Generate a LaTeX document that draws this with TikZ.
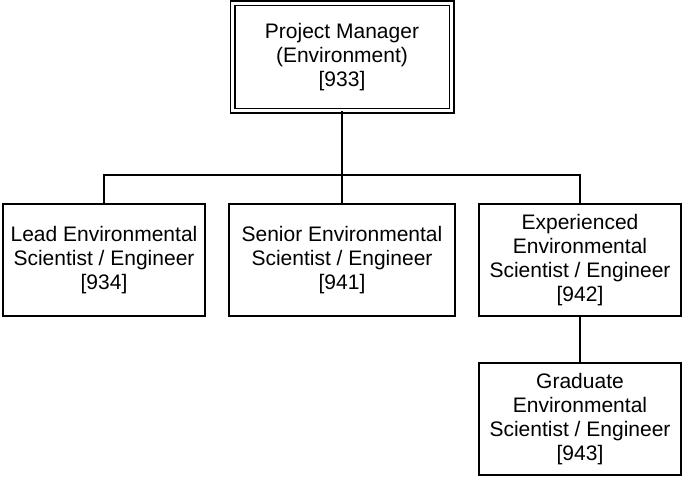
\documentclass[tikz,border=0pt]{standalone}
\usepackage{fontspec}
\setmainfont{Liberation Sans}
\usepackage{xcolor}
\usepackage{tikz}
\usetikzlibrary{positioning, calc}

\begin{document}
\begin{tikzpicture}[
    x=1pt, y=1pt,
    mgr/.style={
        draw=black, line width=1.5pt, double, double distance=3pt,
        rectangle, outer sep=0pt,
        minimum width=219pt, minimum height=107.5pt,
        align=center, font=\fontsize{21}{24}\selectfont
    },
    role/.style={
        draw=black, line width=1.8pt,
        rectangle, outer sep=0pt,
        minimum width=202pt, minimum height=112pt,
        inner sep=0pt, align=center, font=\fontsize{21}{24}\selectfont
    },
    link/.style={
        line width=1.8pt, draw=black
    },
]
\useasboundingbox (0,0) rectangle (683,-477);

\node[mgr] (pm) at (342,-57) {Project Manager\\(Environment)\\{}[933]};
\node[role, minimum width=226pt, below=93.25pt of pm] (senior) {Senior Environmental\\Scientist / Engineer\\{}[941]};
\node[role, left=24pt of senior] (lead) {Lead Environmental\\Scientist / Engineer\\{}[934]};
\node[role, right=24pt of senior] (exp) {Experienced\\Environmental\\Scientist / Engineer\\{}[942]};
\node[role, below=47pt of exp] (grad) {Graduate\\Environmental\\Scientist / Engineer\\{}[943]};

\coordinate (bus) at (342,-175);
\draw[link] (pm) -- (senior);
\draw[link] (lead) |- (bus) -| (exp);
\draw[link] (exp) -- (grad);
\end{tikzpicture}
\end{document}
